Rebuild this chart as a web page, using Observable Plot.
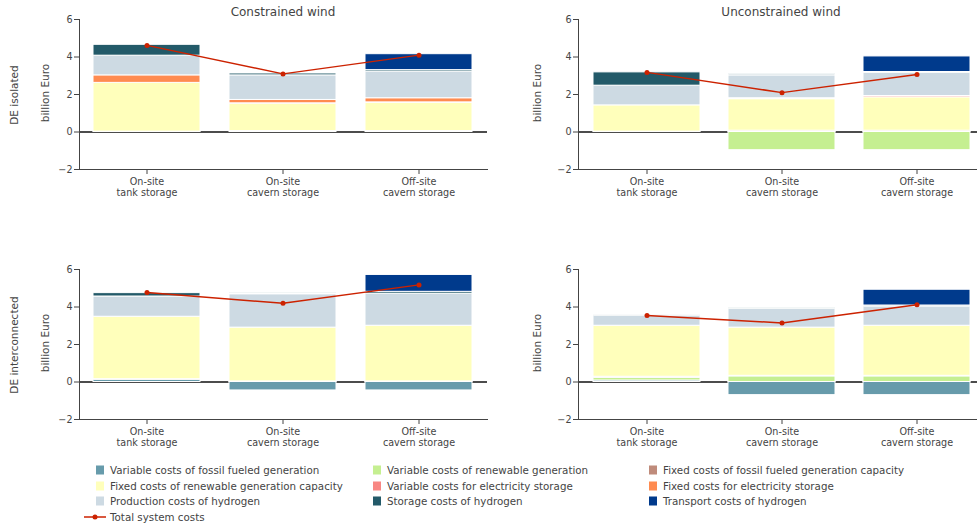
<!DOCTYPE html>
<html>
<head>
<meta charset="utf-8">
<script src="https://cdn.jsdelivr.net/npm/d3@7"></script>
<script src="https://cdn.jsdelivr.net/npm/@observablehq/plot@0.6"></script>
<style>
  html, body { margin: 0; padding: 0; background: #fff; overflow: hidden; }
  #root { position: relative; width: 977px; height: 526px; overflow: hidden; font-family: "DejaVu Sans", Verdana, sans-serif; color: #444; }
  .abs { position: absolute; white-space: nowrap; }
  .title { font-size: 12px; transform: translate(-50%, -50%); }
  .vlab { font-size: 10.5px; transform: translate(-50%, -50%) rotate(-90deg); }
  .leg { font-size: 10.3px; transform: translateY(-50%); }
  .sw { position: absolute; width: 8px; height: 9px; transform: translateY(-50%); }
</style>
</head>
<body>
<div id="root"></div>
<script>
// ---------- data ----------
const categories = ["On-site\ntank storage", "On-site\ncavern storage", "Off-site\ncavern storage"];
const series = [
  "Variable costs of fossil fueled generation",
  "Variable costs of renewable generation",
  "Fixed costs of fossil fueled generation capacity",
  "Fixed costs of renewable generation capacity",
  "Variable costs for electricity storage",
  "Fixed costs for electricity storage",
  "Production costs of hydrogen",
  "Storage costs of hydrogen",
  "Transport costs of hydrogen"
];
const seriesColors = ["#679bab", "#c5ef91", "#bf8b7b", "#ffffbb", "#f88783", "#ff8b50", "#cddae3", "#235a69", "#003a8c"];
const totalLabel = "Total system costs";
const totalColor = "#cc2200";
const yTicks = [-2, 0, 2, 4, 6];
const columnTitles = ["Constrained wind", "Unconstrained wind"];
const rowTitles = ["DE isolated", "DE interconnected"];
const unitLabel = "billion Euro";

// values per series (rows, in series order) for the three categories (columns)
const isolatedConstrained = [
  [0, 0, 0],
  [0, 0, 0],
  [0.02, 0.05, 0.05],
  [2.6, 1.46, 1.5],
  [0, 0.02, 0.03],
  [0.4, 0.18, 0.22],
  [1.05, 1.31, 1.42],
  [0.58, 0.1, 0.08],
  [0, 0, 0.85]
];
const isolatedConstrainedTotal = [4.62, 3.1, 4.1];

const isolatedUnconstrained = [
  [0, 0, 0],
  [0, -0.97, -0.97],
  [0.02, 0.07, 0.07],
  [1.4, 1.68, 1.78],
  [0, 0.05, 0.07],
  [0, 0, 0],
  [1.05, 1.22, 1.23],
  [0.71, 0.06, 0.05],
  [0, 0, 0.83]
];
const isolatedUnconstrainedTotal = [3.18, 2.1, 3.07];

const interconnectedConstrained = [
  [0.12, -0.45, -0.45],
  [0, 0, 0],
  [0.03, 0.03, 0.03],
  [3.33, 2.87, 2.97],
  [0, 0, 0],
  [0, 0, 0],
  [1.08, 1.78, 1.71],
  [0.18, 0.05, 0.1],
  [0, 0, 0.9]
];
const interconnectedConstrainedTotal = [4.77, 4.2, 5.18];

const interconnectedUnconstrained = [
  [0.08, -0.7, -0.7],
  [0.14, 0.3, 0.3],
  [0.06, 0.03, 0.03],
  [2.72, 2.57, 2.67],
  [0, 0, 0],
  [0, 0, 0],
  [0.53, 1.0, 1.02],
  [0.02, 0.03, 0.06],
  [0, 0, 0.84]
];
const interconnectedUnconstrainedTotal = [3.55, 3.15, 4.12];

// ---------- drawing ----------
const root = document.getElementById("root");
const FONT = '"DejaVu Sans", Verdana, sans-serif';

function panel(values, totals, left, top, width, marginLeft, marginRight) {
  const data = [];
  categories.forEach((c, j) => series.forEach((s, i) => data.push({cat: c, series: s, value: values[i][j]})));
  const totalData = categories.map((c, j) => ({cat: c, total: totals[j]}));
  const svg = Plot.plot({
    width, height: 210,
    marginLeft, marginRight, marginTop: 19, marginBottom: 41,
    style: {fontFamily: FONT, fontSize: "9.6px", color: "#444", background: "transparent", overflow: "visible"},
    x: {domain: categories, paddingInner: 0.21, paddingOuter: 0.105, label: null},
    y: {domain: [-2, 6], ticks: yTicks, label: null},
    color: {domain: series, range: seriesColors},
    marks: [
      Plot.ruleY([0], {stroke: "#111", strokeWidth: 1.5}),
      Plot.barY(data, {x: "cat", y: "value", fill: "series", stroke: "white", strokeWidth: 1}),
      Plot.line(totalData, {x: "cat", y: "total", stroke: totalColor, strokeWidth: 1.5}),
      Plot.dot(totalData, {x: "cat", y: "total", fill: totalColor, r: 2.5}),
      Plot.frame({anchor: "left", stroke: "#444"}),
      Plot.frame({anchor: "bottom", stroke: "#444"}),
      Plot.axisX({tickSize: 5, tickPadding: 2, lineHeight: 1.2, fontSize: 9.6, stroke: "#444"}),
      Plot.axisY({ticks: yTicks, tickSize: 5, tickPadding: 2, fontSize: 9.6, stroke: "#444"})
    ]
  });
  svg.style.position = "absolute";
  svg.style.left = left + "px";
  svg.style.top = top + "px";
  root.appendChild(svg);
}

panel(isolatedConstrained, isolatedConstrainedTotal, 0, 0, 490, 79, 3);
panel(isolatedUnconstrained, isolatedUnconstrainedTotal, 490, 0, 494, 88, 0);
panel(interconnectedConstrained, interconnectedConstrainedTotal, 0, 250, 490, 79, 3);
panel(interconnectedUnconstrained, interconnectedUnconstrainedTotal, 490, 250, 494, 88, 0);

function addText(cls, text, x, y) {
  const d = document.createElement("div");
  d.className = "abs " + cls;
  d.style.left = x + "px";
  d.style.top = y + "px";
  d.textContent = text;
  root.appendChild(d);
  return d;
}
addText("title", columnTitles[0], 283, 12);
addText("title", columnTitles[1], 781, 12);
addText("vlab", rowTitles[0], 14, 95);
addText("vlab", rowTitles[1], 14, 345);
addText("vlab", unitLabel, 45, 93);
addText("vlab", unitLabel, 537, 93);
addText("vlab", unitLabel, 45, 343);
addText("vlab", unitLabel, 537, 343);

// legend
const legX = [96, 373, 649];
const legY = [470, 486, 501];
series.forEach((s, i) => {
  const col = i % 3, row = Math.floor(i / 3);
  const sw = document.createElement("div");
  sw.className = "sw";
  sw.style.left = legX[col] + "px";
  sw.style.top = legY[row] + "px";
  sw.style.background = seriesColors[i];
  root.appendChild(sw);
  addText("leg", s, legX[col] + 14, legY[row]);
});
// total legend entry
const ly = 517;
const lsvg = document.createElementNS("http://www.w3.org/2000/svg", "svg");
lsvg.setAttribute("width", 24); lsvg.setAttribute("height", 10);
lsvg.style.position = "absolute"; lsvg.style.left = "84px"; lsvg.style.top = (ly - 5) + "px";
lsvg.innerHTML = `<line x1="0" y1="5" x2="22" y2="5" stroke="${totalColor}" stroke-width="1.5"/><circle cx="11" cy="5" r="2.5" fill="${totalColor}"/>`;
root.appendChild(lsvg);
addText("leg", totalLabel, 110, ly);
</script>
</body>
</html>
